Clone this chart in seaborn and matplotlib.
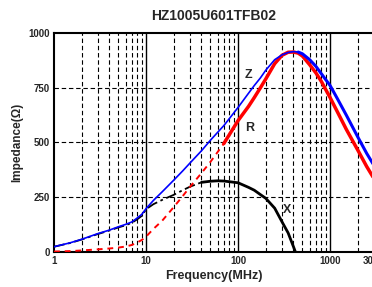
import numpy as np
import pandas as pd
import matplotlib
matplotlib.use('Agg')
import matplotlib.pyplot as plt
import seaborn as sns
from matplotlib.ticker import FixedLocator, NullFormatter, MultipleLocator

# Impedance |Z| (ohm) vs frequency (MHz)
freq_z = [1, 1.5, 2, 3, 4, 5, 6, 7, 8, 9, 10, 12, 15, 20, 25, 30, 40, 50, 70,
          100, 130, 150, 175, 200, 250, 300, 350, 400, 450, 500, 600, 700, 800,
          1000, 1200, 1500, 2000, 2500, 3000]
imp_z = [24, 42, 58, 84, 100, 115, 126, 137, 155, 172, 198, 235, 275, 328, 370,
         406, 462, 510, 577, 660, 725, 760, 795, 830, 878, 900, 911, 915, 913,
         905, 878, 848, 815, 760, 700, 625, 525, 450, 395]

# Resistance R
freq_r = [1, 1.5, 2, 3, 4, 5, 6, 7, 8, 9, 10, 12, 15, 20, 25, 30, 40, 50, 70,
          100, 130, 150, 175, 200, 250, 300, 350, 400, 450, 500, 600, 700, 800,
          1000, 1200, 1500, 2000, 2500, 3000]
res_r = [2, 4, 7, 12, 16, 20, 25, 32, 43, 55, 70, 105, 143, 205, 255, 297, 360,
         411, 495, 600, 665, 705, 750, 790, 860, 898, 912, 913, 908, 895, 855,
         818, 780, 705, 640, 560, 465, 390, 335]

# Reactance X
freq_x = [1, 1.5, 2, 3, 4, 5, 6, 7, 8, 9, 10, 12, 15, 20, 25, 30, 40, 50, 60,
          70, 100, 130, 150, 175, 200, 250, 300, 350, 400, 420]
rea_x = [24, 41, 57, 82, 98, 112, 122, 133, 149, 165, 195, 218, 238, 261, 282,
         298, 318, 323, 325, 324, 316, 295, 282, 262, 245, 200, 138, 87, 24, 0]

x_ticks = [1, 10, 100, 1000, 3000]
x_labels = ['1', '10', '100', '1000', '3000']
y_ticks = [0, 250, 500, 750, 1000]

sns.set_style('white')
plt.rcParams['font.family'] = ['Liberation Sans', 'DejaVu Sans']
plt.rcParams['font.weight'] = 'bold'

fig = plt.figure(figsize=(3.72, 2.87), dpi=100)
ax = fig.add_axes([0.1452, 0.1220, 0.8602, 0.7631])

dz = pd.DataFrame({'f': freq_z, 'v': imp_z})
dr = pd.DataFrame({'f': freq_r, 'v': res_r})
dx = pd.DataFrame({'f': freq_x, 'v': rea_x})

# X: dash-dot at low frequency, thick solid beyond ~40 MHz
sns.lineplot(data=dx[dx.f <= 40], x='f', y='v', ax=ax, color='black', lw=1.3,
             dashes=False, sort=False, estimator=None, zorder=3,
             linestyle=(0, (6, 2, 1.5, 2)))
sns.lineplot(data=dx[dx.f >= 40], x='f', y='v', ax=ax, color='black', lw=2.0,
             sort=False, estimator=None, zorder=3)
# R: dashed at low frequency, thick solid beyond ~70 MHz
sns.lineplot(data=dr[dr.f <= 70], x='f', y='v', ax=ax, color='#ff0000', lw=1.4,
             sort=False, estimator=None, zorder=4, linestyle=(0, (3, 2.5)))
sns.lineplot(data=dr[dr.f >= 70], x='f', y='v', ax=ax, color='#ff0000', lw=2.5,
             sort=False, estimator=None, zorder=4)
# Z: thin rising, thick falling
sns.lineplot(data=dz[dz.f <= 450], x='f', y='v', ax=ax, color='#0000ff', lw=1.2,
             sort=False, estimator=None, zorder=5)
sns.lineplot(data=dz[dz.f >= 450], x='f', y='v', ax=ax, color='#0000ff', lw=2.2,
             sort=False, estimator=None, zorder=4.5)

ax.set_xscale('log')
ax.set_xlim(1, 3000)
ax.set_ylim(0, 1000)

# grid: solid decades, dashed minors
for f in [10, 100, 1000]:
    ax.axvline(f, color='black', lw=1.0, zorder=1)
for dec in [1, 10, 100, 1000]:
    for m in range(2, 10):
        if dec * m < 3000:
            ax.axvline(dec * m, color='black', lw=0.8, zorder=1,
                       linestyle=(0, (4, 2.5)))
for yv in [250, 500, 750]:
    ax.axhline(yv, color='black', lw=0.8, zorder=1, linestyle=(0, (4, 2.5)))

ax.xaxis.set_major_locator(FixedLocator(x_ticks))
ax.set_xticklabels(x_labels)
ax.xaxis.set_minor_formatter(NullFormatter())
ax.set_yticks(y_ticks)
ax.yaxis.set_minor_locator(MultipleLocator(50))
ax.tick_params(axis='both', which='major', direction='in', length=4, width=1,
               labelsize=7, pad=3)
ax.tick_params(axis='both', which='minor', direction='in', length=2.5, width=0.8)
for lab in ax.get_xticklabels() + ax.get_yticklabels():
    lab.set_fontweight('bold')

for s in ax.spines.values():
    s.set_color('black')
    s.set_linewidth(1.5)

ax.set_xlabel('Frequency(MHz)', fontsize=9, fontweight='bold', labelpad=3)
ax.set_ylabel('Impedance(Ω)', fontsize=8.5, fontweight='bold', labelpad=4)
ax.set_title('HZ1005U601TFB02', fontsize=10, fontweight='bold', pad=9)

ax.text(128, 808, 'Z', fontsize=9, fontweight='bold', ha='center', va='center')
ax.text(134, 566, 'R', fontsize=9, fontweight='bold', ha='center', va='center')
ax.text(341, 192, 'X', fontsize=9, fontweight='bold', ha='center', va='center')

fig.savefig('out.png', dpi=100)
